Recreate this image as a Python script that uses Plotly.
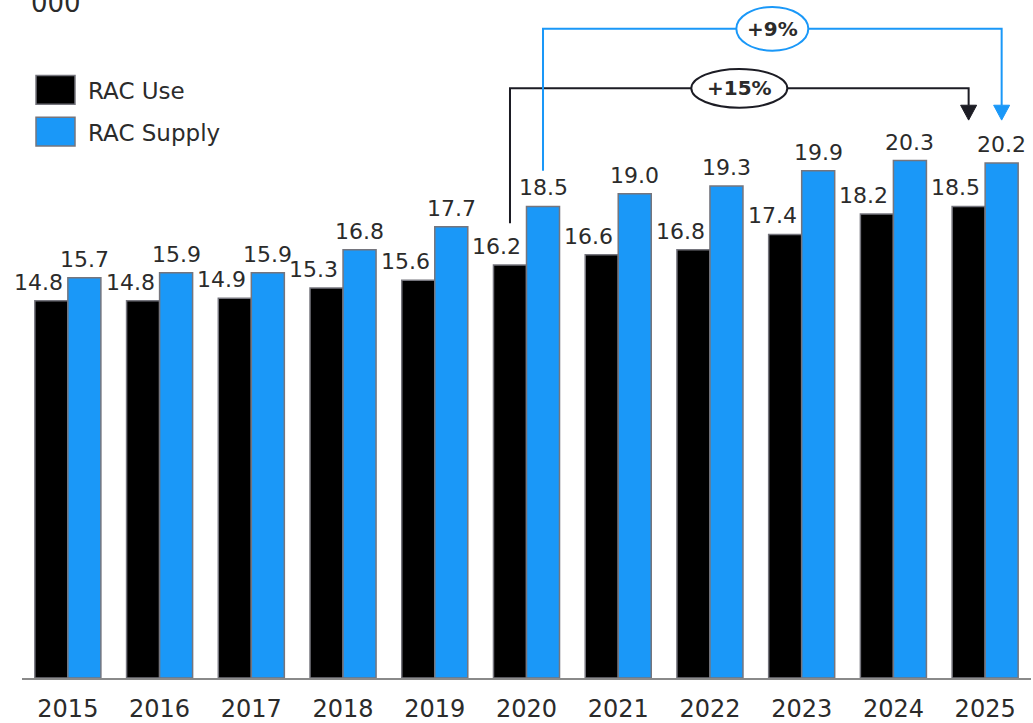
import plotly.graph_objects as go

years = ["2015", "2016", "2017", "2018", "2019", "2020", "2021", "2022", "2023", "2024", "2025"]
rac_use = [14.8, 14.8, 14.9, 15.3, 15.6, 16.2, 16.6, 16.8, 17.4, 18.2, 18.5]
rac_supply = [15.7, 15.9, 15.9, 16.8, 17.7, 18.5, 19.0, 19.3, 19.9, 20.3, 20.2]
series_names = ["RAC Use", "RAC Supply"]
growth_labels = ["+15%", "+9%"]
unit_label = "000"

BLACK = "#000000"
BLUE = "#1a98f8"
LINE_DARK = "#1c1c24"
TEXT = "#2b2b2b"
EDGE = "#75757d"
FONT = "DejaVu Sans"

W, H = 1033, 723
ML, MR, MT, MB = 22, 2, 0, 40
PW, PH = W - ML - MR, H - MT - MB
YMAX = PH / 25.68

def py(p):  # pixel y -> data y
    return (PH - p) / PH * YMAX

fig = go.Figure()
fig.add_trace(go.Bar(x=list(range(len(years))), y=rac_use, name=series_names[0],
                     marker=dict(color=BLACK, line=dict(color=EDGE, width=1.5))))
fig.add_trace(go.Bar(x=list(range(len(years))), y=rac_supply, name=series_names[1],
                     marker=dict(color=BLUE, line=dict(color=EDGE, width=1.5))))

off = 0.18
ann = []
for i, (u, s) in enumerate(zip(rac_use, rac_supply)):
    ann.append(dict(x=i - off, y=u, text=f"{u:.1f}", showarrow=False, xanchor="center",
                    yanchor="bottom", xshift=-13, yshift=4, font=dict(size=22, color=TEXT, family=FONT)))
    ann.append(dict(x=i + off, y=s, text=f"{s:.1f}", showarrow=False, xanchor="center",
                    yanchor="bottom", xshift=0, yshift=4, font=dict(size=22, color=TEXT, family=FONT)))

shapes = []
n = len(years) - 1
conn = [
    dict(xo=-off, yline=py(89), ystart=py(225), color=LINE_DARK, label=growth_labels[0], ew=96, eh=39),
    dict(xo=off, yline=py(29), ystart=py(172), color=BLUE, label=growth_labels[1], ew=72, eh=44),
]
unit_x = 11 / PW
unit_y = YMAX / PH
for c in conn:
    x0 = 5 + c["xo"]
    x1 = n + c["xo"]
    tip = py(121)
    base = py(106)
    path = f"M{x0},{c['ystart']} L{x0},{c['yline']} L{x1},{c['yline']} L{x1},{base}"
    shapes.append(dict(type="path", path=path, xref="x", yref="y",
                       line=dict(color=c["color"], width=2)))
    hw = 8 * unit_x
    shapes.append(dict(type="path", path=f"M{x1-hw},{base} L{x1+hw},{base} L{x1},{tip} Z",
                       xref="x", yref="y", fillcolor=c["color"], line=dict(color=c["color"], width=1)))
    xm = (x0 + x1) / 2
    ew = c["ew"] / 2 * unit_x
    eh = c["eh"] / 2 * unit_y
    shapes.append(dict(type="circle", xref="x", yref="y", x0=xm - ew, x1=xm + ew,
                       y0=c["yline"] - eh, y1=c["yline"] + eh, fillcolor="white",
                       line=dict(color=c["color"], width=2)))
    ann.append(dict(x=xm, y=c["yline"], text=f"<b>{c['label']}</b>", showarrow=False,
                    xanchor="center", yanchor="middle",
                    font=dict(size=20, color=TEXT, family=FONT)))

def px_x(p):
    return (p - ML) / PW
def px_y(p):
    return (PH - (p - MT)) / PH

leg = [(series_names[0], BLACK, 76, 105, 92), (series_names[1], BLUE, 118, 147, 134)]
for name, col, t, b, mid in leg:
    shapes.append(dict(type="rect", xref="paper", yref="paper", x0=px_x(36), x1=px_x(75),
                       y0=px_y(b), y1=px_y(t), fillcolor=col, line=dict(color=EDGE, width=1.5)))
    ann.append(dict(x=px_x(86), y=px_y(mid), xref="paper", yref="paper", text=name,
                    showarrow=False, xanchor="left", yanchor="middle",
                    font=dict(size=23, color=TEXT, family=FONT)))

ann.append(dict(x=px_x(29), y=px_y(0), xref="paper", yref="paper", text=unit_label,
                showarrow=False, xanchor="left", yanchor="middle", yshift=-3,
                font=dict(size=26, color=TEXT, family=FONT)))

fig.update_layout(
    width=W, height=H,
    margin=dict(l=ML, r=MR, t=MT, b=MB),
    barmode="group", bargap=0.28, bargroupgap=0,
    plot_bgcolor="white", paper_bgcolor="white",
    showlegend=False,
    shapes=shapes, annotations=ann,
    xaxis=dict(tickmode="array", tickvals=list(range(len(years))), ticktext=years,
               range=[-0.5, len(years) - 0.5], showgrid=False, zeroline=False,
               showline=True, linecolor="#8a8a8a", linewidth=1.5, ticks="",
               ticklabelstandoff=8,
               tickfont=dict(size=24, color=TEXT, family=FONT)),
    yaxis=dict(range=[0, YMAX], visible=False, showgrid=False, zeroline=False),
)
fig.write_html("out.html")
